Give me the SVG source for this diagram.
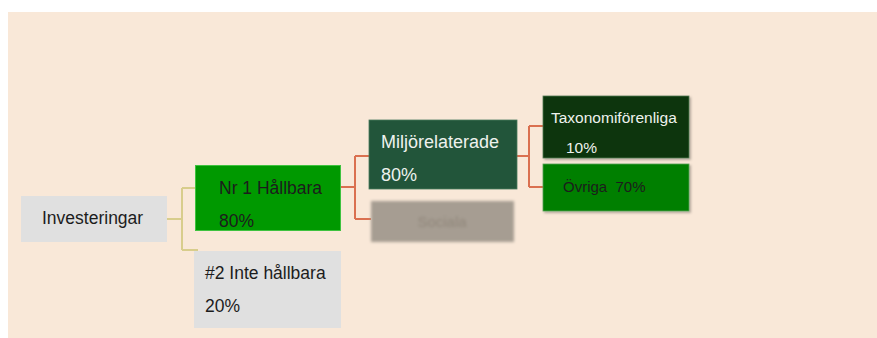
<svg xmlns="http://www.w3.org/2000/svg" width="877" height="338" viewBox="0 0 877 338">
<style>
  text { font-family: "Liberation Sans", Arial, sans-serif; white-space: pre; }
  .dark { fill: #1c1c1c; }
  .light { fill: #eef2ee; }
  .c1 { fill: none; stroke: #d8cd8c; stroke-width: 2; }
  .c2 { fill: none; stroke: #da7050; stroke-width: 2; }
</style>
<defs>
  <filter id="blur" x="-10%" y="-30%" width="120%" height="160%">
    <feGaussianBlur stdDeviation="1.8"/>
  </filter>
  <filter id="shadow" x="-5%" y="-10%" width="115%" height="130%">
    <feDropShadow dx="1.5" dy="1.5" stdDeviation="1.2" flood-color="#000" flood-opacity="0.3"/>
  </filter>
</defs>
<rect x="8" y="12" width="869" height="326" fill="#f9e8d8"/>
<g id="connectors">
  <path class="c1" d="M167,219 H182 M182,188 V250 M182,188 H195 M182,250 H198"/>
  <path class="c2" d="M341,187 H355 M355,156 V219 M355,156 H369 M355,219 H371"/>
  <path class="c2" d="M517,156 H529 M529,126 V187 M529,126 H543 M529,187 H543"/>
</g>
<g id="investeringar">
  <rect x="21" y="196" width="146" height="46" fill="#e0e0e0"/>
  <text x="42" y="224" font-size="17.5" class="dark">Investeringar</text>
</g>
<g id="nr1">
  <rect x="195.5" y="165.5" width="145" height="65" fill="#009900" stroke="#3fc23f" stroke-width="1"/>
  <text x="219" y="194" font-size="17.5" class="dark">Nr 1 Hållbara</text>
  <text x="219" y="227" font-size="17.5" class="dark">80%</text>
</g>
<g id="inte-hallbara">
  <rect x="194" y="251" width="147" height="77" fill="#e0e0e0"/>
  <text x="205" y="279" font-size="17.5" class="dark">#2 Inte hållbara</text>
  <text x="205" y="312" font-size="17.5" class="dark">20%</text>
</g>
<g id="miljorelaterade">
  <rect x="369" y="120" width="148" height="69" fill="#22553a" stroke="#4a7a5e" stroke-width="0.8"/>
  <text x="381" y="148" font-size="18" class="light">Miljörelaterade</text>
  <text x="381" y="181" font-size="18" class="light">80%</text>
</g>
<g id="sociala" filter="url(#blur)">
  <rect x="371" y="201" width="143" height="41" fill="#a69d92"/>
  <text x="442" y="227" font-size="15" text-anchor="middle" fill="#8f857a">Sociala</text>
</g>
<g id="taxonomiforenliga">
  <rect x="543" y="96" width="146" height="62" fill="#073607" stroke="#5a7a5a" stroke-width="0.8" filter="url(#shadow)"/>
  <text x="551" y="123" font-size="15.5" class="light">Taxonomiförenliga</text>
  <text x="566" y="153" font-size="15.5" class="light">10%</text>
</g>
<g id="ovriga">
  <rect x="543" y="164" width="146" height="47" fill="#007f00" stroke="#5aa05a" stroke-width="0.8" filter="url(#shadow)"/>
  <text x="563" y="192" font-size="15" class="dark">Övriga  70%</text>
</g>
</svg>
